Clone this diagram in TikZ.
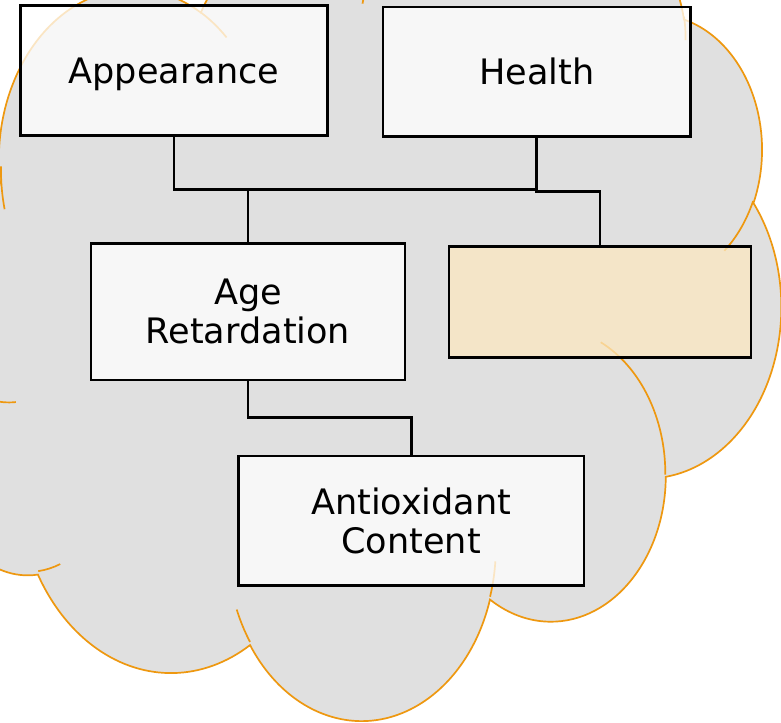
\documentclass[tikz,border=0pt]{standalone}
\usepackage{fontspec}
\setmainfont{DejaVu Sans}
\definecolor{cloudfill}{RGB}{224,224,224}
\definecolor{cloudedge}{RGB}{238,152,16}
\definecolor{beigefill}{RGB}{252,232,192}
\begin{document}
\begin{tikzpicture}[x=1bp,y=-1bp,
  cloudshape/.style={fill=cloudfill,draw=cloudedge,line width=1.7bp},
  cloudtail/.style={draw=cloudedge,line width=1.7bp},
  box/.style={draw=black,line width=2.8bp,fill=white,fill opacity=0.75,text opacity=1,
    inner sep=0pt,font=\fontsize{35.2}{39.4}\selectfont,align=center},
  oneline/.style={text height=25.6bp,text depth=0pt},
  conn/.style={draw=black,line width=2.6bp}]
\useasboundingbox (0,0) rectangle (781,723);
\fill[white] (0,0) rectangle (781,723);
\begin{scope}
\clip (0,0) rectangle (781,723);
\begin{scope}[shift={(-77.4,-84)},x=0.1987bp,y=-0.1857bp]
\path[cloudshape] (390,1437)
  arc[x radius=675.3,y radius=919,start angle=172.255,end angle=300.37]
  arc[x radius=533.3,y radius=726.7,start angle=-152.03,end angle=-45.45]
  arc[x radius=436.5,y radius=594.5,start angle=-153.50,end angle=-37.33]
  arc[x radius=485.7,y radius=659.5,start angle=-139.71,end angle=-10.21]
  arc[x radius=533.3,y radius=727.3,start angle=-74.77,end angle=23.21]
  arc[x radius=677.5,y radius=922,start angle=-37.52,end angle=81.86]
  arc[x radius=578.5,y radius=786.7,start angle=0.4596,end angle=121.98]
  arc[x radius=675.2,y radius=921.5,start angle=16.845,end angle=146.23]
  arc[x radius=772,y radius=1054.3,start angle=58.98,end angle=150.20]
  arc[x radius=436,y radius=591.8,start angle=83.31,end angle=223.10]
  arc[x radius=434.5,y radius=594.5,start angle=120.36,end angle=264.11]
  -- cycle;
\path[cloudtail]
  (469.3,2617.7) arc[x radius=434.5,y radius=594.5,start angle=85.55,end angle=120.36]
  (692.8,3489.9) arc[x radius=436,y radius=591.8,start angle=68.23,end angle=83.31]
  (1647.8,3909) arc[x radius=675.2,y radius=921.5,start angle=146.23,end angle=158.48]
  (2882.7,3475.1) arc[x radius=675.2,y radius=921.5,start angle=4.738,end angle=16.845]
  (3412.9,2295.4) arc[x radius=578.5,y radius=786.7,start angle=-64.03,end angle=0.4596]
  (4179.8,1535.4) arc[x radius=533.3,y radius=727.3,start angle=23.21,end angle=49.63]
  (3832.4,542.6) arc[x radius=485.7,y radius=659.5,start angle=-10.21,end angle=0.818]
  (2907.8,395.2) arc[x radius=485.7,y radius=659.5,start angle=-156.29,end angle=-139.71]
  (2214.1,472) arc[x radius=436.5,y radius=594.5,start angle=-167.73,end angle=-153.50]
  (1400,519.2) arc[x radius=675.3,y radius=919,start angle=-59.63,end angle=-45.74]
  (412.7,1578.9) arc[x radius=675.3,y radius=919,start angle=166.60,end angle=181.08];
\end{scope}
\end{scope}
% boxes
\node[box,oneline,minimum width=307bp,minimum height=130bp] (app) at (174,70.5) {Appearance};
\node[box,oneline,minimum width=307.5bp,minimum height=129.5bp] (hea) at (536.75,71.75) {Health};
\node[box,minimum width=314bp,minimum height=136.5bp] (age) at (248,311.75) {Age\\Retardation};
\node[box,fill=beigefill,minimum width=302bp,minimum height=111.2bp] (bei) at (600,301.9) {};
\node[box,minimum width=345.7bp,minimum height=129.3bp] (ant) at (411.2,520.7) {Antioxidant\\Content};
% connector levels
\coordinate (j1) at (0,189.5);
\coordinate (j2) at (0,191.5);
\coordinate (j3) at (0,417.5);
\draw[conn] (app.south) -- (app.south |- j1) -| (age.north);
\draw[conn] (hea.south) -- (hea.south |- j1) -| (age.north);
\draw[conn] (hea.south) -- (hea.south |- j2) -| (bei.north);
\draw[conn] (age.south) -- (age.south |- j3) -| (ant.north);
\end{tikzpicture}
\end{document}
